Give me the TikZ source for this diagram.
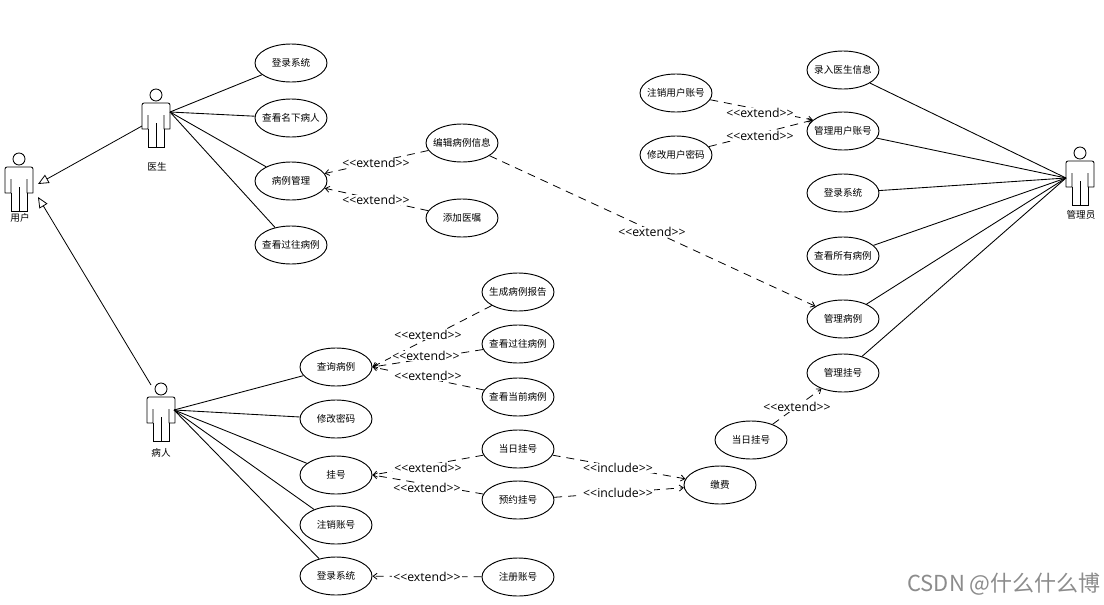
\documentclass[tikz,border=0pt]{standalone}
\usepackage{fontspec}
\setmainfont{Noto Sans CJK SC}
\newfontfamily\latfont{Open Sans}
\usetikzlibrary{shapes.geometric,arrows.meta}
\newcommand{\ut}[1]{\makebox[0pt][c]{\raisebox{-.7pt}{#1}}}
\tikzset{
  uc/.style={ellipse,draw=black,line width=.7pt,fill=white,minimum width=54pt,minimum height=28.5pt,inner sep=0pt,font=\fontsize{7.2pt}{9pt}\selectfont},
  assoc/.style={draw=black,line width=.65pt},
  dep/.style={draw=black,line width=.6pt,dash pattern=on 6pt off 4.5pt,-{Straight Barb[length=3pt,width=4.5pt]}},
  gen/.style={draw=black,line width=.6pt,-{Triangle[open,length=8pt,width=7pt,fill=white]}},
  lbl/.style={fill=white,inner xsep=1pt,inner ysep=0pt,yshift=-.7pt,font=\latfont\fontsize{9.2pt}{11pt}\selectfont},
  who/.style={font=\fontsize{7.2pt}{9pt}\selectfont,inner sep=0pt},
  actorfig/.pic={
    \draw[line width=.65pt] (0,0) circle[radius=6];
    \draw[line width=.65pt,line join=round] (-8,20) -- (-8,34) -- (-14,34) -- (-14,10) .. controls (-14,9) and (-13,8) .. (-12,8) -- (12,8) .. controls (13,8) and (14,9) .. (14,10) -- (14,34) -- (8,34) -- (8,20);
    \draw[line width=.65pt] (-8,34) -- (-8,52) -- (8,52) -- (8,34);
    \draw[line width=.65pt] (0,28) -- (0,52);
  },
}
\newcommand{\exlabel}[2]{\node[lbl] (#1) at (#2) {<{}<extend>{}>};}
\begin{document}
\begin{tikzpicture}[x=.75pt,y=-.75pt]
\useasboundingbox (0,0) rectangle (1104,604);
\fill[white] (0,0) rectangle (1104,604);

% actors
\pic at (19,159) {actorfig};
\pic at (156,95) {actorfig};
\pic at (161,389) {actorfig};
\pic at (1080,153) {actorfig};
\node[who] (usr) at (20,218) {用户};
\node[who] (doc) at (157,167) {医生};
\node[who] (pat) at (161,453) {病人};
\node[who] (adm) at (1081,215) {管理员};
\coordinate (docR) at (170,112);
\coordinate (docL) at (142,126);
\coordinate (patR) at (174,410);
\coordinate (patL) at (151,385);
\coordinate (admL) at (1066,178);
\coordinate (genA) at (38,184);
\coordinate (genB) at (38,197);

% use cases
\node[uc] (d1) at (291,63) {\ut{登录系统}};
\node[uc] (d2) at (291,118) {\ut{查看名下病人}};
\node[uc] (d3) at (291,181) {\ut{病例管理}};
\node[uc] (d4) at (291,245) {\ut{查看过往病例}};
\node[uc] (e1) at (462,143) {\ut{编辑病例信息}};
\node[uc] (e2) at (462,218) {\ut{添加医嘱}};
\node[uc] (r1) at (518,292) {\ut{生成病例报告}};
\node[uc] (r2) at (518,344) {\ut{查看过往病例}};
\node[uc] (r3) at (518,397) {\ut{查看当前病例}};
\node[uc] (r4) at (518,449) {\ut{当日挂号}};
\node[uc] (r5) at (518,500) {\ut{预约挂号}};
\node[uc] (r6) at (518,577) {\ut{注册账号}};
\node[uc] (p1) at (336,367) {\ut{查询病例}};
\node[uc] (p2) at (336,419) {\ut{修改密码}};
\node[uc] (p3) at (336,475) {\ut{挂号}};
\node[uc] (p4) at (336,525) {\ut{注销账号}};
\node[uc] (p5) at (336,576) {\ut{登录系统}};
\node[uc] (pay) at (720,485) {\ut{缴费}};
\node[uc] (today) at (751,440) {\ut{当日挂号}};
\node[uc] (a1) at (843,70) {\ut{录入医生信息}};
\node[uc] (a2) at (843,131) {\ut{管理用户账号}};
\node[uc] (a3) at (843,193) {\ut{登录系统}};
\node[uc] (a4) at (843,256) {\ut{查看所有病例}};
\node[uc] (a5) at (843,319) {\ut{管理病例}};
\node[uc] (a6) at (843,373) {\ut{管理挂号}};
\node[uc] (u1) at (676,93) {\ut{注销用户账号}};
\node[uc] (u2) at (676,155) {\ut{修改用户密码}};

% generalisation
\draw[gen] (docL) -- (genA);
\draw[gen] (patL) -- (genB);

% associations
\foreach \t in {d1,d2,d3,d4} \draw[assoc] (docR) -- (\t);
\foreach \t in {p1,p2,p3,p4,p5} \draw[assoc] (patR) -- (\t);
\foreach \t in {a1,a2,a3,a4,a5,a6} \draw[assoc] (admL) -- (\t);

% dependencies
\draw[dep] (e1) -- (d3);
\draw[dep] (e2) -- (d3);
\draw[dep] (e1) -- (a5);
\draw[dep] (r1) -- (p1.east);
\draw[dep] (r2) -- (p1.east);
\draw[dep] (r3) -- (p1.east);
\draw[dep] (r4) -- (p3.east);
\draw[dep] (r5) -- (p3.east);
\draw[dep] (r6) -- (p5);
\draw[dep] (r4) -- (pay);
\draw[dep] (r5) -- (pay);
\draw[dep] (today) -- (a6);
\draw[dep] (u1) -- (a2.160);
\draw[dep] (u2) -- (a2.160);

% labels
\exlabel{l1}{376,162}
\exlabel{l2}{376,199}
\exlabel{l3}{652,231}
\exlabel{l4}{428,334}
\exlabel{l5}{426,355}
\exlabel{l6}{428,375}
\exlabel{l7}{428,467}
\exlabel{l8}{427,487}
\exlabel{l9}{427,576}
\exlabel{l10}{797,406}
\exlabel{l11}{760,112}
\exlabel{l12}{760,135}
\node[lbl] (i1) at (618,467) {<{}<include>{}>};
\node[lbl] (i2) at (618,492) {<{}<include>{}>};

% watermark
\node[inner sep=0pt,text=black!45,font=\fontsize{16.5pt}{18pt}\selectfont] (mark) at (1004,584) {CSDN @什么什么博};
\end{tikzpicture}
\end{document}
